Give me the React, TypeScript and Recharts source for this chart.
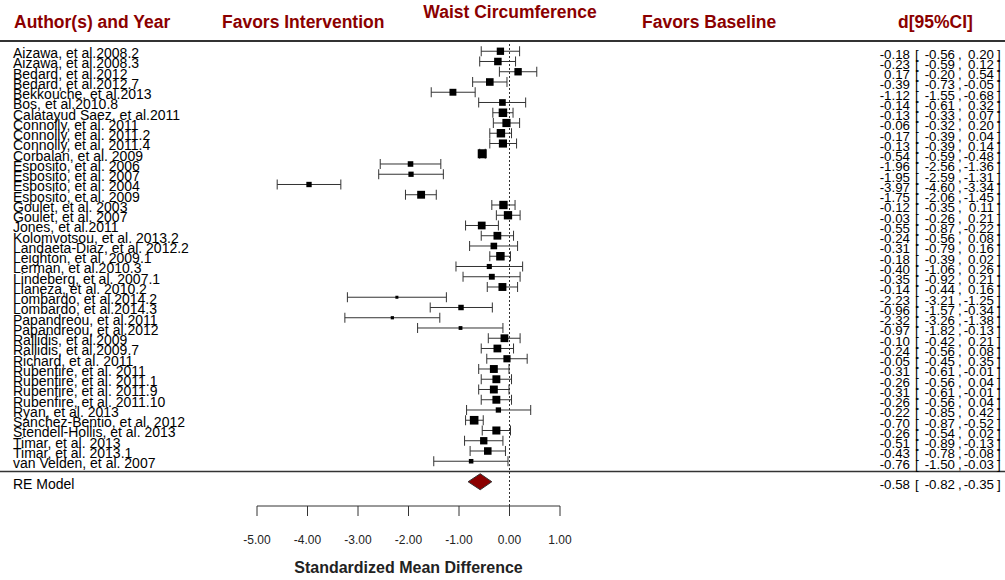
import React from "react";
import {
  ScatterChart,
  Scatter,
  XAxis,
  YAxis,
  ErrorBar,
  ReferenceLine,
  ReferenceArea,
  Label,
} from "recharts";

const authors = [
  "Aizawa, et al.2008.2",
  "Aizawa, et al.2008.3",
  "Bedard, et al.2012",
  "Bedard, et al.2012.7",
  "Bekkouche, et al.2013",
  "Bos, et al.2010.8",
  "Calatayud Saez, et al.2011",
  "Connolly, et al. 2011",
  "Connolly, et al. 2011.2",
  "Connolly, et al. 2011.4",
  "Corbalan, et al. 2009",
  "Esposito, et al. 2006",
  "Esposito, et al. 2007",
  "Esposito, et al. 2004",
  "Esposito, et al. 2009",
  "Goulet, et al. 2003",
  "Goulet, et al. 2007",
  "Jones, et al.2011",
  "Kolomvotsou, et al. 2013.2",
  "Landaeta-Diaz, et al. 2012.2",
  "Leighton, et al. 2009.1",
  "Lerman, et al.2010.3",
  "Lindeberg, et al. 2007.1",
  "Llaneza, et al. 2010.2",
  "Lombardo, et al.2014.2",
  "Lombardo, et al.2014.3",
  "Papandreou, et al.2011",
  "Papandreou, et al.2012",
  "Rallidis, et al.2009",
  "Rallidis, et al.2009.7",
  "Richard, et al. 2011",
  "Rubenfire, et al. 2011",
  "Rubenfire, et al. 2011.1",
  "Rubenfire, et al. 2011.9",
  "Rubenfire, et al. 2011.10",
  "Ryan, et al. 2013",
  "Sanchez-Bentio, et al. 2012",
  "Stendell-Hollis, et al. 2013",
  "Timar, et al. 2013",
  "Timar, et al. 2013.1",
  "van Velden, et al. 2007",
];

const estimates = [
  -0.18, -0.23, 0.17, -0.39, -1.12, -0.14, -0.13, -0.06, -0.17, -0.13, -0.54,
  -1.96, -1.95, -3.97, -1.75, -0.12, -0.03, -0.55, -0.24, -0.31, -0.18, -0.4,
  -0.35, -0.14, -2.23, -0.96, -2.32, -0.97, -0.1, -0.24, -0.05, -0.31, -0.26,
  -0.31, -0.26, -0.22, -0.7, -0.26, -0.51, -0.43, -0.76,
];

const lowerCI = [
  -0.56, -0.59, -0.2, -0.73, -1.55, -0.61, -0.33, -0.32, -0.39, -0.39, -0.59,
  -2.56, -2.59, -4.6, -2.06, -0.35, -0.26, -0.87, -0.56, -0.79, -0.39, -1.06,
  -0.92, -0.44, -3.21, -1.57, -3.26, -1.82, -0.42, -0.56, -0.45, -0.61, -0.56,
  -0.61, -0.56, -0.85, -0.87, -0.54, -0.89, -0.78, -1.5,
];

const upperCI = [
  0.2, 0.12, 0.54, -0.05, -0.68, 0.32, 0.07, 0.2, 0.04, 0.14, -0.48, -1.36,
  -1.31, -3.34, -1.45, 0.11, 0.21, -0.22, 0.08, 0.16, 0.02, 0.26, 0.21, 0.16,
  -1.25, -0.34, -1.38, -0.13, 0.21, 0.08, 0.35, -0.01, 0.04, -0.01, 0.04, 0.42,
  -0.52, 0.02, -0.13, -0.08, -0.03,
];

const reLabel = "RE Model";
const reEst = -0.58;
const reLower = -0.82;
const reUpper = -0.35;

const xTicks = [-5, -4, -3, -2, -1, 0, 1];

const FONT = '"Liberation Sans", Arial, Helvetica, sans-serif';
const DARK_RED = "#8B0000";
const TAU2 = 0.2; // between-study variance used for the square sizes

const k = authors.length;
const Y_TOP = k + 1;
const Y_BOTTOM = -3.366;

// random-effects weights -> square size, like metafor's psize
const vi = lowerCI.map((lb, i) => ((upperCI[i] - lb) / (2 * 1.96)) ** 2);
const wi = vi.map((v) => 1 / (v + TAU2));
const wMin = Math.min(...wi);
const wMax = Math.max(...wi);

const studies = authors.map((name, i) => ({
  name,
  x: estimates[i],
  y: k - i,
  err: [estimates[i] - lowerCI[i], upperCI[i] - estimates[i]],
  psize: 0.5 + (wi[i] - wMin) / (wMax - wMin),
}));

const rows = new Map<number, { name: string; est: number; lb: number; ub: number }>();
studies.forEach((s, i) =>
  rows.set(s.y, { name: s.name, est: estimates[i], lb: lowerCI[i], ub: upperCI[i] })
);
rows.set(-1, { name: reLabel, est: reEst, lb: reLower, ub: reUpper });
const rowTicks = [...rows.keys()];

const fmt = (v: number) => v.toFixed(2);

const LeftTick = (props: any) => {
  const r = rows.get(props.payload.value);
  if (!r) return null;
  return (
    <text x={13} y={props.y} dy="0.5em" fontSize={14} fontFamily={FONT} fill="#000">
      {r.name}
    </text>
  );
};

const RightTick = (props: any) => {
  const r = rows.get(props.payload.value);
  if (!r) return null;
  const t = { y: props.y, dy: "0.55em", fontSize: 13.3, fontFamily: FONT, fill: "#000" };
  return (
    <g>
      <text x={910} textAnchor="end" {...t}>{fmt(r.est)}</text>
      <text x={915} {...t}>[</text>
      <text x={955} textAnchor="end" {...t}>{fmt(r.lb)}</text>
      <text x={958} {...t}>,</text>
      <text x={994} textAnchor="end" {...t}>{fmt(r.ub)}</text>
      <text x={997} {...t}>]</text>
    </g>
  );
};

const Square = (props: any) => {
  const s = 6 * props.payload.psize;
  return <rect x={props.cx - s / 2} y={props.cy - s / 2} width={s} height={s} fill="#000" />;
};

const Diamond = (props: any) => {
  const { x, y, width, height } = props;
  const cx = x + (width * (reEst - reLower)) / (reUpper - reLower);
  const cy = y + height / 2;
  const pts = `${x},${cy} ${cx},${y} ${x + width},${cy} ${cx},${y + height}`;
  return <polygon points={pts} fill={DARK_RED} stroke="#333" strokeWidth={1} />;
};

const FullWidthLine = (w: number) => (props: any) =>
  <line x1={0} x2={1005} y1={props.y1} y2={props.y1} stroke="#333" strokeWidth={w} />;

export default function App() {
  return (
    <div style={{ position: "absolute", left: 0, top: 0, width: 1005, height: 580, background: "#fff" }}>
      <ScatterChart width={1005} height={580} margin={{ top: 41, right: 0, bottom: 0, left: 0 }}>
        <XAxis
          type="number"
          dataKey="x"
          domain={[-5, 1]}
          ticks={xTicks}
          interval={0}
          tickFormatter={fmt}
          height={74}
          tickSize={10}
          tickMargin={19}
          stroke="#333"
          tick={{ fill: "#222", fontSize: 12, fontFamily: FONT }}
        >
          <Label
            value="Standardized Mean Difference"
            position="insideBottom"
            offset={7}
            style={{ fontFamily: FONT, fontSize: 16, fontWeight: "bold", fill: "#222" }}
          />
        </XAxis>
        <YAxis
          yAxisId="left"
          type="number"
          dataKey="y"
          domain={[Y_BOTTOM, Y_TOP]}
          allowDataOverflow
          ticks={rowTicks}
          interval={0}
          width={257}
          axisLine={false}
          tickLine={false}
          tick={LeftTick}
        />
        <YAxis
          yAxisId="right"
          orientation="right"
          type="number"
          dataKey="y"
          domain={[Y_BOTTOM, Y_TOP]}
          allowDataOverflow
          ticks={rowTicks}
          interval={0}
          width={445}
          axisLine={false}
          tickLine={false}
          tick={RightTick}
        />
        <ReferenceLine yAxisId="left" y={Y_TOP} shape={FullWidthLine(2)} ifOverflow="visible" />
        <ReferenceLine yAxisId="left" y={0} shape={FullWidthLine(1.5)} ifOverflow="visible" />
        <ReferenceLine yAxisId="left" x={0} stroke="#333" strokeDasharray="2 2" />
        <Scatter yAxisId="left" data={studies} shape={Square} isAnimationActive={false}>
          <ErrorBar
            dataKey="err"
            direction="x"
            width={5}
            stroke="#333"
            strokeWidth={1}
            isAnimationActive={false}
          />
        </Scatter>
        <ReferenceArea
          yAxisId="left"
          x1={reLower}
          x2={reUpper}
          y1={-1.78}
          y2={-0.22}
          shape={Diamond}
          ifOverflow="visible"
        />
      </ScatterChart>
      <svg
        width={1005}
        height={40}
        style={{ position: "absolute", left: 0, top: 0, pointerEvents: "none" }}
        fontFamily={FONT}
        fontWeight="bold"
        fontSize={17.5}
        fill={DARK_RED}
      >
        <text x={14} y={28}>Author(s) and Year</text>
        <text x={222} y={28}>Favors Intervention</text>
        <text x={510} y={18} textAnchor="middle">Waist Circumference</text>
        <text x={642} y={28}>Favors Baseline</text>
        <text x={898} y={28}>d[95%CI]</text>
      </svg>
    </div>
  );
}
